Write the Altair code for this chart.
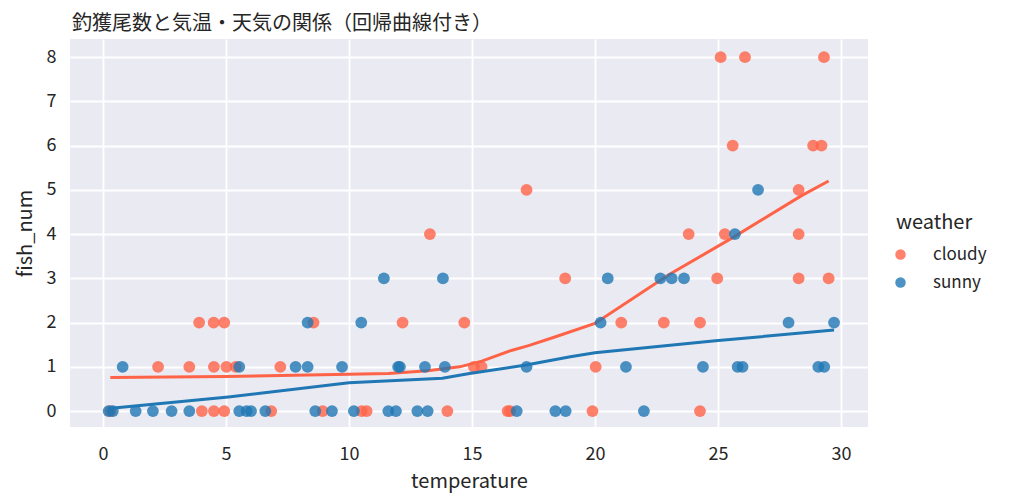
import altair as alt
import pandas as pd

# cloudy observations
cloudy_temp = [0.3, 3.91, 4.50, 4.93, 8.56, 12.18, 14.69, 21.07, 22.8, 24.27,
               2.24, 3.51, 4.51, 5.02, 5.40, 7.21, 15.08, 15.39, 20.03,
               4.02, 4.51, 4.93, 6.84, 8.93, 10.52, 10.72, 14.0, 16.45, 16.55, 19.9, 24.27,
               18.79, 24.97, 28.28, 29.5,
               13.29, 23.81, 25.28, 28.28,
               17.22, 28.28,
               25.6, 28.87, 29.21,
               25.11, 26.1, 29.31]
cloudy_fish = [0, 2, 2, 2, 2, 2, 2, 2, 2, 2,
               1, 1, 1, 1, 1, 1, 1, 1, 1,
               0, 0, 0, 0, 0, 0, 0, 0, 0, 0, 0, 0,
               3, 3, 3, 3,
               4, 4, 4, 4,
               5, 5,
               6, 6, 6,
               8, 8, 8]

# sunny observations
sunny_temp = [0.23, 0.40, 1.33, 2.03, 2.79, 3.51, 5.54, 5.84, 6.02, 6.60, 8.63, 9.31,
              10.2, 11.6, 11.91, 12.78, 13.2, 16.82, 18.39, 18.81, 21.99,
              0.80, 5.54, 7.83, 8.32, 9.72, 12.0, 12.07, 13.09, 13.9, 17.22, 21.26,
              24.39, 25.8, 26.0, 29.08, 29.32,
              8.32, 10.5, 20.23, 27.87, 29.72,
              11.42, 13.82, 20.52, 22.66, 23.12, 23.62,
              25.69, 26.63]
sunny_fish = [0, 0, 0, 0, 0, 0, 0, 0, 0, 0, 0, 0,
              0, 0, 0, 0, 0, 0, 0, 0, 0,
              1, 1, 1, 1, 1, 1, 1, 1, 1, 1, 1,
              1, 1, 1, 1, 1,
              2, 2, 2, 2, 2,
              3, 3, 3, 3, 3, 3,
              4, 5]

# regression (lowess) curves
cloudy_fit_x = [0.3, 5.0, 10.0, 11.6, 13.2, 14.5, 15.4, 16.6, 17.3, 18.4, 20.0, 23.0, 25.6, 28.4, 29.5]
cloudy_fit_y = [0.76, 0.78, 0.83, 0.85, 0.91, 1.0, 1.13, 1.37, 1.48, 1.68, 1.98, 3.08, 3.92, 4.87, 5.2]
sunny_fit_x = [0.23, 5.1, 10.0, 13.8, 14.9, 17.2, 19.0, 20.0, 24.9, 29.72]
sunny_fit_y = [0.06, 0.32, 0.64, 0.74, 0.85, 1.04, 1.23, 1.32, 1.59, 1.83]

weather_levels = ["cloudy", "sunny"]
palette = ["#FF6347", "#1F77B4"]

df = pd.concat([
    pd.DataFrame({"temperature": cloudy_temp, "fish_num": cloudy_fish, "weather": "cloudy"}),
    pd.DataFrame({"temperature": sunny_temp, "fish_num": sunny_fish, "weather": "sunny"}),
], ignore_index=True)

fits = {
    "cloudy": pd.DataFrame({"temperature": cloudy_fit_x, "fish_num": cloudy_fit_y}),
    "sunny": pd.DataFrame({"temperature": sunny_fit_x, "fish_num": sunny_fit_y}),
}

FONT = "Noto Sans CJK JP"

xs = alt.Scale(domain=[-1.34, 31.1], nice=False, zero=False)
ys = alt.Scale(domain=[-0.36, 8.41], nice=False, zero=False)
cs = alt.Scale(domain=weather_levels, range=palette)

x_enc = alt.X("temperature:Q", scale=xs,
              axis=alt.Axis(values=[0, 5, 10, 15, 20, 25, 30], title="temperature"))
y_enc = alt.Y("fish_num:Q", scale=ys,
              axis=alt.Axis(values=list(range(0, 9)), title="fish_num"))


def pts(level, legend):
    return alt.Chart(df).transform_filter(alt.datum.weather == level).mark_circle(
        size=140, opacity=0.8
    ).encode(
        x=x_enc, y=y_enc,
        color=alt.Color("weather:N", scale=cs, legend=legend),
    )


def fit(level):
    return alt.Chart(fits[level]).mark_line(strokeWidth=3).encode(
        x=x_enc, y=y_enc,
        color=alt.value(palette[weather_levels.index(level)]),
    )


legend = alt.Legend(title="weather", orient="none", legendX=826, legendY=174,
                    symbolType="circle", symbolSize=110, symbolOpacity=0.8,
                    symbolOffset=-4, labelOffset=24, rowPadding=10, titlePadding=13)

chart = alt.layer(
    pts("cloudy", legend), fit("cloudy"), pts("sunny", legend), fit("sunny")
).properties(
    width=798, height=388,
    title=alt.TitleParams("釣獲尾数と気温・天気の関係（回帰曲線付き）", anchor="start",
                          frame="group",
                          font=FONT, fontSize=20, fontWeight="normal", color="#262626",
                          offset=5, dx=2),
    autosize=alt.AutoSizeParams(type="none"),
    padding={"left": 62, "top": 31, "right": 128, "bottom": 70},
).configure_view(
    fill="#EAEAF2", stroke=None
).configure_axis(
    grid=True, gridColor="white", gridWidth=1.8, domain=False, ticks=False,
    labelFont=FONT, labelFontSize=18, labelColor="#262626",
    titleFont=FONT, titleFontSize=20, titleColor="#262626", titleFontWeight="normal",
).configure_axisX(
    labelPadding=18, titlePadding=8
).configure_axisY(
    labelPadding=14, titlePadding=11
).configure_legend(
    titleFont=FONT, titleFontSize=20, titleColor="#262626", titleFontWeight="normal",
    labelFont=FONT, labelFontSize=17, labelColor="#262626",
)

chart.save("out.html", embed_options={"renderer": "svg", "actions": False})
